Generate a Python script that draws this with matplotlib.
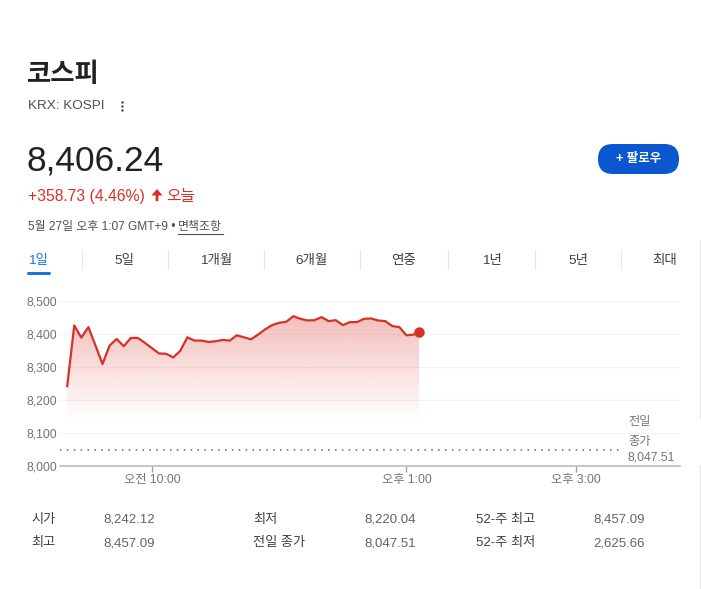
import numpy as np
import matplotlib
matplotlib.use("Agg")
import matplotlib.pyplot as plt
from matplotlib.patches import FancyBboxPatch, Polygon
from matplotlib.lines import Line2D

plt.rcParams['font.family'] = ['Liberation Sans', 'Noto Sans CJK KR', 'DejaVu Sans']

# ---- data ----
# minutes after 09:00, 5 minute bars + last tick (13:07)
times = list(range(0, 250, 5)) + [249]
prices = [8242.12, 8426, 8389, 8421, 8365, 8309, 8365, 8385, 8363, 8388,
          8388, 8373, 8357, 8341, 8340, 8329, 8349, 8390, 8380, 8380,
          8376, 8378, 8382, 8380, 8396, 8390, 8384, 8398, 8414, 8427,
          8434, 8437, 8454, 8446, 8441, 8442, 8451, 8439, 8442, 8427,
          8436, 8436, 8446, 8447, 8441, 8439, 8424, 8421, 8396, 8398,
          8406.24]
prev_close = 8047.51
y_ticks = [8000, 8100, 8200, 8300, 8400, 8500]
x_ticks = [60, 240, 360]
x_ticklabels = ["오전 10:00", "오후 1:00", "오후 3:00"]
tabs = ["1일", "5일", "1개월", "6개월", "연중", "1년", "5년", "최대"]
stat_labels = [["시가", "최고"], ["최저", "전일 종가"], ["52-주 최고", "52-주 최저"]]
stat_values = [["8,242.12", "8,457.09"], ["8,220.04", "8,047.51"], ["8,457.09", "2,625.66"]]

RED = "#d93025"
GRAY = "#70757a"
DARK = "#202124"

W, H = 701, 589
fig = plt.figure(figsize=(W / 100, H / 100), dpi=100)

# page layer in pixel coordinates
bg = fig.add_axes([0, 0, 1, 1])
bg.set_xlim(0, W)
bg.set_ylim(H, 0)
bg.axis("off")

bg.text(27, 75, "코스피", fontsize=19, color=DARK, va="center", ha="left", fontweight="bold")
bg.text(28, 106, "KRX: KOSPI", fontsize=9.7, color="#4d5156", va="center")
bg.scatter([122, 122, 122], [101.5, 105.5, 109.5], s=3, color="#3c4043", lw=0)
bg.text(26, 161, "8,406.24", fontsize=25.5, color=DARK, va="center")
bg.text(28, 196, "+358.73 (4.46%)", fontsize=11.3, color=RED, va="center")
# solid up arrow
bg.add_patch(Polygon([(151.5, 195.5), (157, 189), (162.5, 195.5), (158.4, 195.5),
                      (158.4, 201), (155.6, 201), (155.6, 195.5)], closed=True,
                     fc=RED, ec="none"))
bg.text(166, 196, "오늘", fontsize=11.3, color=RED, va="center")
bg.text(28, 227, "5월 27일 오후 1:07 GMT+9 •", fontsize=8.6, color="#4d5156", va="center")
bg.text(178, 227, "면책조항", fontsize=8.6, color="#4d5156", va="center")
bg.add_line(Line2D([178, 223], [234, 234], color="#4d5156", lw=0.8))

# follow button
bg.add_patch(FancyBboxPatch((598, 144), 81, 30, boxstyle="round,pad=0,rounding_size=15",
                            fc="#0b57d0", ec="none"))
bg.text(638.5, 159, "+ 팔로우", fontsize=9, color="white", fontweight="bold",
        ha="center", va="center")

# tabs
tab_x = [38, 124, 216, 311, 404, 492, 578, 665]
sep_x = [82, 168, 264, 360, 448, 535, 621]
for tx, lab in zip(tab_x, tabs):
    bg.text(tx, 261, lab, fontsize=9.7, ha="center", va="center",
            color="#1a73e8" if lab == "1일" else "#3c4043")
for sx in sep_x:
    bg.add_line(Line2D([sx, sx], [250, 269], color="#e3e5e8", lw=0.8))
bg.add_patch(FancyBboxPatch((27, 272), 24, 3, boxstyle="round,pad=0,rounding_size=1.5",
                            fc="#1a73e8", ec="none"))

# right edge card borders
bg.add_line(Line2D([699.5, 699.5], [240, 418], color="#e6e6e6", lw=0.8))
bg.add_line(Line2D([699.5, 699.5], [465, 589], color="#e6e6e6", lw=0.8))

# stats table
col_lab = [31, 253, 476]
col_val = [103, 364, 593]
row_y = [520, 543]
for c in range(3):
    for r in range(2):
        bg.text(col_lab[c], row_y[r], stat_labels[c][r], fontsize=9.5, color="#3c4043", va="center")
        bg.text(col_val[c], row_y[r], stat_values[c][r], fontsize=9.5, color="#5f6368", va="center")

# ---- chart ----
px_per_min = 84.8 / 60
x0 = 67.2
left_px, right_px, top_px, bot_px = 60, 680, 301, 466
ax = fig.add_axes([left_px / W, 1 - bot_px / H, (right_px - left_px) / W, (bot_px - top_px) / H])
ax.patch.set_alpha(0)
tmin = (left_px - x0) / px_per_min
tmax = (right_px - x0) / px_per_min
ax.set_xlim(tmin, tmax)
ax.set_ylim(8000, 8500)

for yv in y_ticks[1:]:
    ax.axhline(yv, color="#f3f3f4", lw=0.9, zorder=0)

# gradient under the line
base = 8130
verts = [(times[0], base)] + list(zip(times, prices)) + [(times[-1], base)]
poly = Polygon(verts, closed=True, transform=ax.transData, fc="none", ec="none")
ax.add_patch(poly)
grad = np.zeros((256, 1, 4))
grad[:, 0, :3] = matplotlib.colors.to_rgb(RED)
grad[:, 0, 3] = np.linspace(0.0, 0.33, 256) ** 1.05
im = ax.imshow(grad, extent=[times[0], times[-1], base, max(prices)], origin="lower",
               aspect="auto", zorder=1, interpolation="bicubic")
im.set_clip_path(poly)

ax.plot(times, prices, color=RED, lw=1.6, zorder=3, solid_joinstyle="round")
ax.plot(times[-1], prices[-1], "o", color=RED, ms=6.5, zorder=4)

# previous close
t_end_dots = (623 - x0) / px_per_min
ax.plot([tmin, t_end_dots], [prev_close, prev_close], color="#5f6368",
        lw=1.1, linestyle=(0, (1, 3.5)), zorder=2, dash_capstyle="butt")
for s, yy in zip(["전일", "종가", "8,047.51"], [422, 442, 458]):
    bg.text(628, yy, s, fontsize=8.8, color=GRAY, va="center")

for sp in ["top", "right", "left"]:
    ax.spines[sp].set_visible(False)
ax.spines["bottom"].set_color("#bdc1c6")
ax.spines["bottom"].set_linewidth(1.3)

ax.set_yticks(y_ticks)
ax.set_yticklabels([f"{v:,}" for v in y_ticks], color=GRAY, fontsize=8.8)
ax.tick_params(axis="y", length=0, pad=2)
ax.set_xticks(x_ticks)
ax.set_xticklabels(x_ticklabels, color=GRAY, fontsize=8.8)
ax.tick_params(axis="x", length=4, width=1, color="#9aa0a6", pad=2)

fig.savefig("out.png", dpi=100)
